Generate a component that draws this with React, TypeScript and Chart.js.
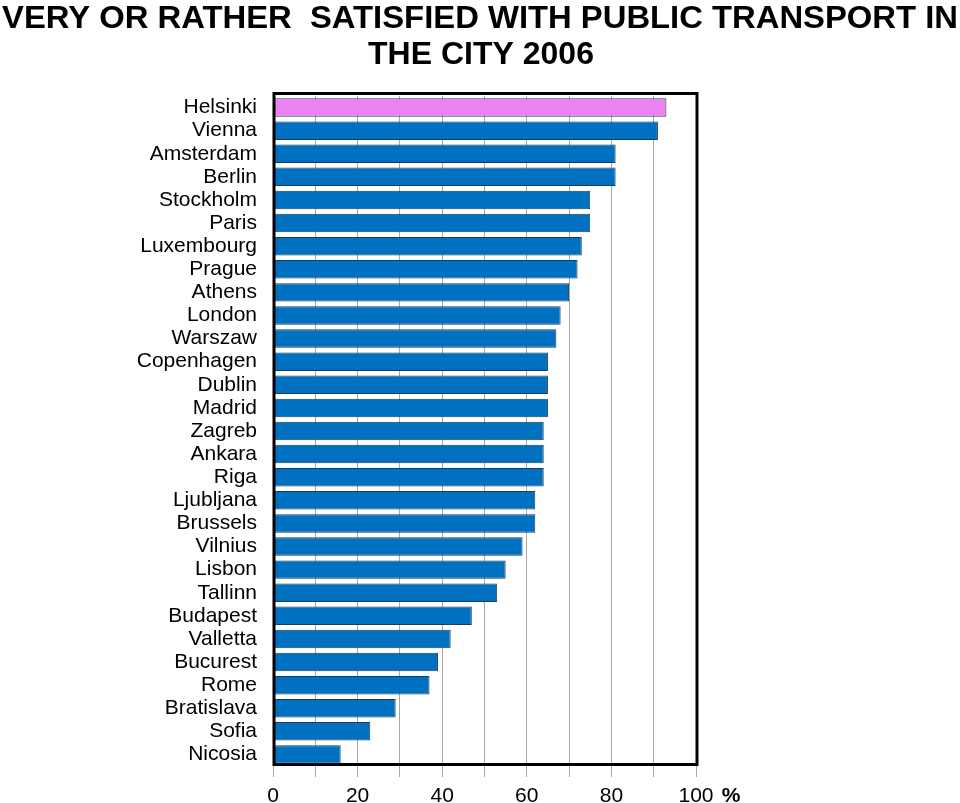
import React, { useEffect, useRef } from "react";
import { Chart, registerables } from "chart.js";

Chart.register(...registerables);

const cities = [
  "Helsinki", "Vienna", "Amsterdam", "Berlin", "Stockholm", "Paris", "Luxembourg",
  "Prague", "Athens", "London", "Warszaw", "Copenhagen", "Dublin", "Madrid",
  "Zagreb", "Ankara", "Riga", "Ljubljana", "Brussels", "Vilnius", "Lisbon",
  "Tallinn", "Budapest", "Valletta", "Bucurest", "Rome", "Bratislava", "Sofia", "Nicosia",
];
const satisfied = [
  93, 91, 81, 81, 75, 75, 73, 72, 70, 68, 67, 65, 65, 65, 64, 64, 64, 62, 62, 59, 55,
  53, 47, 42, 39, 37, 29, 23, 16,
];
const highlightCity = "Helsinki";
const titleLines = ["VERY OR RATHER  SATISFIED WITH PUBLIC TRANSPORT IN", "THE CITY 2006"];
const unitLabel = "%";

const FONT = "'Liberation Sans', Arial, sans-serif";

export default function App() {
  const ref = useRef<HTMLCanvasElement | null>(null);
  useEffect(() => {
    if (!ref.current) return;
    const decor = {
      id: "decor",
      afterDraw(chart: any) {
        const ctx = chart.ctx;
        const a = chart.chartArea;
        ctx.save();
        ctx.fillStyle = "#000";
        ctx.font = `bold 32px ${FONT}`;
        ctx.textAlign = "center";
        ctx.textBaseline = "alphabetic";
        const w1 = ctx.measureText(titleLines[0]).width;
        const sx = Math.min(1.1, 956 / w1);
        ctx.save();
        ctx.translate(480, 28);
        ctx.scale(sx, 1);
        ctx.fillText(titleLines[0], 0, 0);
        ctx.restore();
        ctx.fillText(titleLines[1], 481, 64);
        ctx.strokeStyle = "#000";
        ctx.lineWidth = 3;
        ctx.strokeRect(a.left + 1, a.top - 2.5, a.right - a.left, a.bottom - a.top + 1);
        ctx.font = `bold 21px ${FONT}`;
        ctx.textBaseline = "middle";
        ctx.textAlign = "center";
        ctx.fillText(unitLabel, 731, 796);
        ctx.restore();
      },
    };
    const chart = new Chart(ref.current, {
      type: "bar",
      data: {
        labels: cities,
        datasets: [
          {
            data: satisfied,
            backgroundColor: cities.map((c) => (c === highlightCity ? "#EA82F2" : "#0070C0")),
            borderColor: "#1c3c5c",
            borderWidth: 1,
            barPercentage: 0.8,
            categoryPercentage: 1,
          },
        ],
      },
      options: {
        indexAxis: "y",
        responsive: false,
        animation: false,
        layout: { padding: { top: 96, right: 264, bottom: 0, left: 0 } },
        plugins: { legend: { display: false }, tooltip: { enabled: false } },
        scales: {
          x: {
            min: 0,
            max: 100,
            grid: { color: "#a8a8a8", lineWidth: 1, tickLength: 11, drawTicks: true },
            border: { display: false },
            ticks: {
              stepSize: 10,
              autoSkip: false,
              maxRotation: 0,
              padding: 7,
              color: "#000",
              font: { family: FONT, size: 21 },
              callback: (v: any) => (Number(v) % 20 === 0 ? String(v) : ""),
            },
            afterFit: (s: any) => {
              s.height = 37;
            },
          },
          y: {
            grid: { display: false, drawTicks: false },
            border: { display: false },
            ticks: {
              autoSkip: false,
              padding: 16,
              color: "#000",
              font: { family: FONT, size: 21 },
            },
            afterFit: (s: any) => {
              s.width = 273;
            },
          },
        },
      },
      plugins: [decor],
    } as any);
    return () => chart.destroy();
  }, []);
  return (
    <div style={{ position: "absolute", left: 0, top: 0, width: 960, height: 803, background: "#fff" }}>
      <canvas ref={ref} width={960} height={803} style={{ width: 960, height: 803 }} />
    </div>
  );
}
